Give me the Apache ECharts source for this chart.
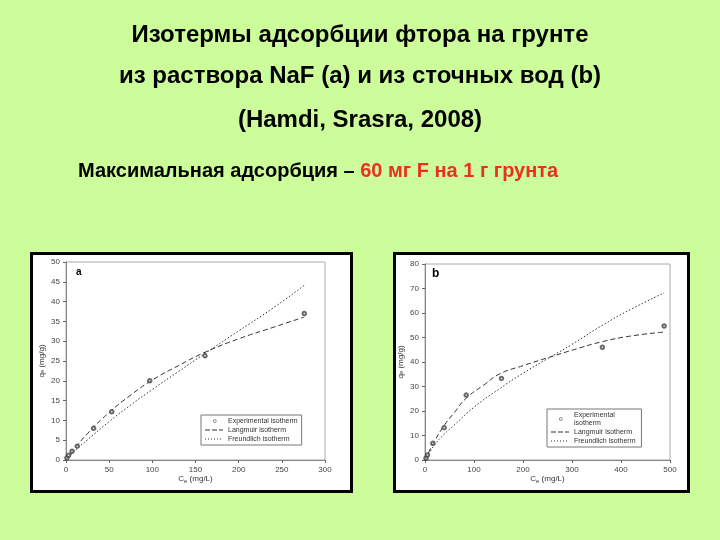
<!DOCTYPE html>
<html><head><meta charset="utf-8">
<script src="https://cdn.jsdelivr.net/npm/echarts@6/dist/echarts.min.js"></script>
<style>html,body{margin:0;padding:0;background:#ccfd9a;}#c{width:720px;height:540px;}</style>
</head><body><div id="c"></div>
<script>
// ---- text ----
const titleLines = ['Изотермы адсорбции фтора на грунте', 'из раствора NaF (a) и из сточных вод (b)', '(Hamdi, Srasra, 2008)'];
const noteBlack = 'Максимальная адсорбция – ';
const noteRed = '60 мг F на 1 г грунта';
// ---- chart a ----
const aXTicks = [0, 50, 100, 150, 200, 250, 300];
const aYTicks = [0, 5, 10, 15, 20, 25, 30, 35, 40, 45, 50];
const aExp = [[1,0.5],[3,1.2],[7,2.2],[13,3.5],[32,8],[53,12.2],[97,20],[161,26.3],[276,37]];
const aLang = [[0,0],[10,2.8],[25,6.7],[50,12],[75,16.4],[100,20.2],[130,23.8],[161,27.2],[200,30.6],[240,33.5],[276,36.1]];
const aFreu = [[0,0],[10,2.3],[25,5.1],[50,9.7],[75,13.9],[100,17.8],[130,22.3],[161,26.9],[200,32.6],[240,38.4],[276,44.1]];
// ---- chart b ----
const bXTicks = [0, 100, 200, 300, 400, 500];
const bYTicks = [0, 10, 20, 30, 40, 50, 60, 70, 80];
const bExp = [[2,0.7],[5,2],[16,6.8],[39,13.2],[84,26.5],[156,33.3],[362,46],[488,54.7]];
const bLang = [[0,0],[20,7.9],[41,14.6],[60,19.4],[84,25.2],[120,30.6],[153,35.2],[200,38.5],[250,41.7],[300,44.8],[362,48.3],[420,50.6],[488,52.2]];
const bFreu = [[0,0],[20,6.3],[40,10.7],[60,14.3],[99,21.4],[150,28.8],[200,35.4],[260,42.5],[300,47.2],[362,55],[420,61.5],[488,68.2]];

const chart = echarts.init(document.getElementById('c'), null, {renderer:'canvas'});
const tickFont = {fontFamily:'Liberation Sans, Arial', fontSize:8, color:'#444'};
function xAxis(idx, ticks, title){
  return {gridIndex:idx, type:'value', min:ticks[0], max:ticks[ticks.length-1], interval:ticks[1]-ticks[0],
    axisLine:{show:true,lineStyle:{color:'#888',width:1}}, axisTick:{show:true,length:3,lineStyle:{color:'#666'}},
    splitLine:{show:false}, axisLabel:Object.assign({margin:6}, tickFont),
    name:title, nameLocation:'middle', nameGap:14,
    nameTextStyle:{fontFamily:'Liberation Sans, Arial', fontSize:8, color:'#333',
      rich:{t:{fontSize:8,color:'#333'},s:{fontSize:6,color:'#333',verticalAlign:'bottom',padding:[4,0,0,0]}}}};
}
function yAxis(idx, ticks, gap){
  return {gridIndex:idx, type:'value', min:ticks[0], max:ticks[ticks.length-1], interval:ticks[1]-ticks[0],
    axisLine:{show:true,lineStyle:{color:'#888',width:1}}, axisTick:{show:true,length:3,lineStyle:{color:'#666'}},
    splitLine:{show:false}, axisLabel:Object.assign({margin:6}, tickFont),
    name:'{t|q}{s|e}{t| (mg/g)}', nameLocation:'middle', nameGap:gap, nameRotate:90,
    nameTextStyle:{rich:{t:{fontFamily:'Liberation Sans, Arial',fontSize:8,color:'#333'},s:{fontFamily:'Liberation Sans, Arial',fontSize:6,color:'#333'}}}};
}
const lineCol = '#333';
// legend icons (18 x 6 box)
const bbox = ' M0,0h0.05v0.05h-0.05z M17.95,5.95h0.05v0.05h-0.05z';
const dashIcon = 'path://M0,2.6h5v0.9h-5z M7,2.6h5v0.9h-5z M14,2.6h4v0.9h-4z' + bbox;
const dotIcon = 'path://M0,2.6h1v0.9h-1z M3,2.6h1v0.9h-1z M6,2.6h1v0.9h-1z M9,2.6h1v0.9h-1z M12,2.6h1v0.9h-1z M15,2.6h1v0.9h-1z' + bbox;
const circIcon = 'path://M8,3a1.8,1.8 0 1,0 3.6,0a1.8,1.8 0 1,0 -3.6,0z M8.7,3a1.1,1.1 0 1,1 2.2,0a1.1,1.1 0 1,1 -2.2,0z' + bbox;
const font = '"Liberation Sans", Arial';
const legendBase = {orient:'vertical', itemGap:1, itemWidth:18, itemHeight:6,
  borderColor:'#777', borderWidth:1, borderRadius:0, padding:[2,4,2,4], backgroundColor:'#fff',
  textStyle:{fontFamily:'Liberation Sans, Arial', fontSize:7, color:'#333', lineHeight:8}, selectedMode:false};
const option = {
  backgroundColor:'#ccfd9a',
  animation:false,
  graphic:[
    {type:'rect', shape:{x:31.5,y:253.5,width:320,height:238}, style:{fill:'#fff',stroke:'#000',lineWidth:3}, z:-10},
    {type:'rect', shape:{x:394.5,y:253.5,width:294,height:238}, style:{fill:'#fff',stroke:'#000',lineWidth:3}, z:-10},
    {type:'text', left:'center', top:23, style:{text:titleLines[0], font:'bold 24px '+font, fill:'#000'}},
    {type:'text', left:'center', top:64, style:{text:titleLines[1], font:'bold 24px '+font, fill:'#000'}},
    {type:'text', left:'center', top:108, style:{text:titleLines[2], font:'bold 24px '+font, fill:'#000'}},
    {type:'text', left:78, top:161, style:{text:'{k|'+noteBlack+'}{r|'+noteRed+'}',
      rich:{k:{font:'bold 20px '+font, fill:'#000'}, r:{font:'bold 20px '+font, fill:'#e8321e'}}}},
    {type:'text', left:76, top:267, style:{text:'a', font:'bold 10px '+font, fill:'#000'}},
    {type:'text', left:432, top:268, style:{text:'b', font:'bold 12px '+font, fill:'#000'}}
  ],
  grid:[
    {left:66, top:262, width:259, height:198, show:true, borderColor:'#aaa', borderWidth:1, backgroundColor:'transparent'},
    {left:425, top:264, width:245, height:196, show:true, borderColor:'#aaa', borderWidth:1, backgroundColor:'transparent'}
  ],
  xAxis:[xAxis(0,aXTicks,'{t|C}{s|e}{t| (mg/L)}'), xAxis(1,bXTicks,'{t|C}{s|e}{t| (mg/L)}')],
  yAxis:[yAxis(0,aYTicks,20), yAxis(1,bYTicks,20)],
  legend:[
    Object.assign({}, legendBase, {left:201, top:415,
      data:[{name:'Experimental isotherm',icon:circIcon},{name:'Langmuir isotherm',icon:dashIcon},{name:'Freundlich isotherm',icon:dotIcon}]}),
    Object.assign({}, legendBase, {left:547, top:409,
      data:[{name:'Experimental\nisotherm',icon:circIcon},{name:'Langmuir isotherm ',icon:dashIcon},{name:'Freundlich isotherm ',icon:dotIcon}]})
  ],
  series:[
    {name:'Experimental isotherm', type:'scatter', xAxisIndex:0, yAxisIndex:0, data:aExp, symbol:'emptyCircle', symbolSize:3.5, itemStyle:{color:'#444', borderWidth:0.8}, z:5},
    {name:'Langmuir isotherm', type:'line', xAxisIndex:0, yAxisIndex:0, data:aLang, smooth:true, symbol:'none', lineStyle:{color:lineCol,width:1,type:[5,3]}, itemStyle:{color:lineCol}},
    {name:'Freundlich isotherm', type:'line', xAxisIndex:0, yAxisIndex:0, data:aFreu, smooth:true, symbol:'none', lineStyle:{color:lineCol,width:1,type:[1.5,2]}, itemStyle:{color:lineCol}},
    {name:'Experimental\nisotherm', type:'scatter', xAxisIndex:1, yAxisIndex:1, data:bExp, symbol:'emptyCircle', symbolSize:3.5, itemStyle:{color:'#444', borderWidth:0.8}, z:5},
    {name:'Langmuir isotherm ', type:'line', xAxisIndex:1, yAxisIndex:1, data:bLang, smooth:true, symbol:'none', lineStyle:{color:lineCol,width:1,type:[5,3]}, itemStyle:{color:lineCol}},
    {name:'Freundlich isotherm ', type:'line', xAxisIndex:1, yAxisIndex:1, data:bFreu, smooth:true, symbol:'none', lineStyle:{color:lineCol,width:1,type:[1.5,2]}, itemStyle:{color:lineCol}}
  ]
};
chart.setOption(option);
</script></body></html>
